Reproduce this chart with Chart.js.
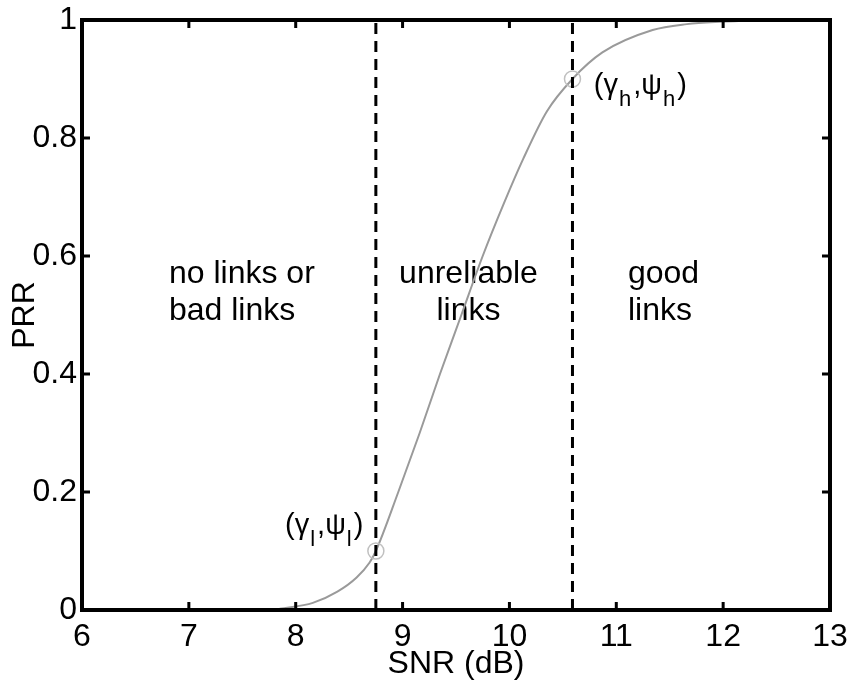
<!DOCTYPE html>
<html>
<head>
<meta charset="utf-8">
<script src="https://cdn.jsdelivr.net/npm/chart.js@4.4.1/dist/chart.umd.min.js"></script>
<style>
  html, body { margin: 0; padding: 0; background: #fff; }
  #wrap { width: 850px; height: 685px; }
</style>
</head>
<body>
<div id="wrap"><canvas id="c" width="850" height="685"></canvas></div>
<script>
// Packet reception ratio as a function of SNR
const snrValues = [7.85, 8.16, 8.39, 8.57, 8.69, 8.75, 8.96, 9.16, 9.35, 9.55, 9.75, 9.95, 10.13, 10.35, 10.59, 10.87, 11.34, 11.66, 11.97, 12.45];
const prrValues = [0.002, 0.012, 0.031, 0.055, 0.080, 0.10, 0.20, 0.30, 0.40, 0.50, 0.60, 0.69, 0.765, 0.845, 0.90, 0.945, 0.983, 0.993, 0.997, 1.0];

// Region boundaries (gamma = SNR threshold, psi = PRR at threshold)
const gammaValues = [8.75, 10.59];
const psiValues = [0.10, 0.90];

// Axis ticks
const xTickLabels = ['6', '7', '8', '9', '10', '11', '12', '13'];
const yTickLabels = ['0', '0.2', '0.4', '0.6', '0.8', '1'];

const FONT = "'Liberation Sans', Arial, Helvetica, sans-serif";

const curve = snrValues.map((x, i) => ({ x, y: prrValues[i] }));
const markers = gammaValues.map((x, i) => ({ x, y: psiValues[i] }));

function boundary(g) {
  return {
    data: [{ x: g, y: 0 }, { x: g, y: 1 }],
    showLine: true,
    borderColor: '#000',
    borderWidth: 3,
    borderDash: [11, 7],
    pointRadius: 0,
    order: 0
  };
}

// Text with subscripts, e.g. (γ_l, ψ_l)
function drawParts(ctx, x, y, parts) {
  let cx = x;
  for (const [txt, sub] of parts) {
    ctx.font = (sub ? '22px ' : '29px ') + FONT;
    ctx.fillText(txt, cx, sub ? y + 12 : y);
    cx += ctx.measureText(txt).width + (sub ? 2 : 1);
  }
}

const annotations = {
  id: 'annotations',
  beforeDatasetsDraw(chart) {
    const { ctx, scales: { x, y } } = chart;
    ctx.save();
    ctx.fillStyle = '#000';
    ctx.textBaseline = 'alphabetic';
    ctx.font = '32px ' + FONT;

    ctx.textAlign = 'left';
    ctx.fillText('no links or', x.getPixelForValue(6.814), y.getPixelForValue(0.554));
    ctx.fillText('bad links', x.getPixelForValue(6.814), y.getPixelForValue(0.4915));

    ctx.textAlign = 'center';
    ctx.fillText('unreliable', x.getPixelForValue(9.617), y.getPixelForValue(0.554));
    ctx.fillText('links', x.getPixelForValue(9.617), y.getPixelForValue(0.4915));

    ctx.textAlign = 'left';
    ctx.fillText('good', x.getPixelForValue(11.109), y.getPixelForValue(0.554));
    ctx.fillText('links', x.getPixelForValue(11.109), y.getPixelForValue(0.4915));

    drawParts(ctx, x.getPixelForValue(7.90), y.getPixelForValue(0.129),
      [['(γ', false], ['l', true], [',ψ', false], ['l', true], [')', false]]);
    drawParts(ctx, x.getPixelForValue(10.79), y.getPixelForValue(0.875),
      [['(γ', false], ['h', true], [',ψ', false], ['h', true], [')', false]]);
    ctx.restore();
  },
  afterDatasetsDraw(chart) {
    const { ctx, chartArea: a, scales: { x, y } } = chart;
    ctx.save();
    ctx.strokeStyle = '#000';
    ctx.lineWidth = 4;
    ctx.strokeRect(a.left, a.top, a.right - a.left, a.bottom - a.top);

    // inward tick marks on all four sides
    ctx.lineWidth = 3;
    const len = 8;
    ctx.beginPath();
    x.ticks.forEach(t => {
      const px = x.getPixelForValue(t.value);
      ctx.moveTo(px, a.bottom); ctx.lineTo(px, a.bottom - len);
      ctx.moveTo(px, a.top); ctx.lineTo(px, a.top + len);
    });
    y.ticks.forEach(t => {
      const py = y.getPixelForValue(t.value);
      ctx.moveTo(a.left, py); ctx.lineTo(a.left + len, py);
      ctx.moveTo(a.right, py); ctx.lineTo(a.right - len, py);
    });
    ctx.stroke();
    ctx.restore();
  }
};

new Chart(document.getElementById('c'), {
  type: 'scatter',
  data: {
    datasets: [
      {
        data: curve,
        showLine: true,
        borderColor: '#9a9a9a',
        borderWidth: 2,
        pointRadius: 0,
        cubicInterpolationMode: 'monotone',
        order: 2
      },
      {
        data: markers,
        showLine: false,
        pointRadius: 8,
        pointStyle: 'circle',
        pointBackgroundColor: 'rgba(0,0,0,0)',
        pointBorderColor: '#c0c0c0',
        pointBorderWidth: 1.5,
        order: 1
      },
      boundary(gammaValues[0]),
      boundary(gammaValues[1])
    ]
  },
  options: {
    responsive: false,
    animation: false,
    events: [],
    layout: { padding: { top: 20, right: 20, left: 0, bottom: 0 } },
    plugins: { legend: { display: false }, tooltip: { enabled: false } },
    scales: {
      x: {
        type: 'linear',
        min: 6, max: 13,
        afterBuildTicks(s) { s.ticks = xTickLabels.map(v => ({ value: +v })); },
        ticks: {
          autoSkip: false,
          maxRotation: 0,
          padding: 8,
          color: '#000',
          font: { family: FONT, size: 32 },
          callback: (v, i) => xTickLabels[i]
        },
        grid: { display: false, drawTicks: false },
        border: { display: false },
        title: {
          display: true,
          text: 'SNR (dB)',
          color: '#000',
          font: { family: FONT, size: 32 },
          padding: { top: 0, bottom: 2 }
        },
        afterFit(s) { s.height = 75; s.paddingLeft = 0; s.paddingRight = 0; }
      },
      y: {
        type: 'linear',
        min: 0, max: 1,
        afterBuildTicks(s) { s.ticks = yTickLabels.map(v => ({ value: +v })); },
        ticks: {
          autoSkip: false,
          padding: 5,
          color: '#000',
          font: { family: FONT, size: 32 },
          callback: (v, i) => yTickLabels[i]
        },
        grid: { display: false, drawTicks: false },
        border: { display: false },
        title: {
          display: true,
          text: 'PRR',
          color: '#000',
          font: { family: FONT, size: 32 },
          padding: { top: 6, bottom: 0 }
        },
        afterFit(s) { s.width = 82; s.paddingTop = 0; s.paddingBottom = 0; }
      }
    }
  },
  plugins: [annotations]
});
</script>
</body>
</html>
